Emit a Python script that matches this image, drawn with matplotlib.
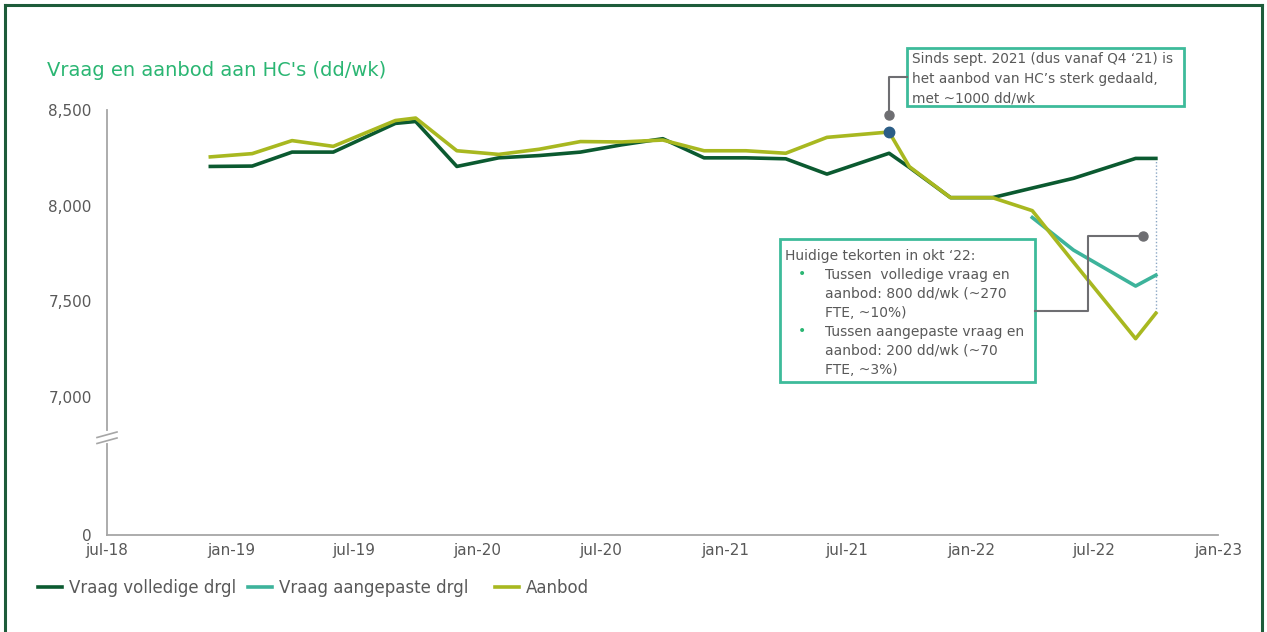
import numpy as np
import matplotlib
matplotlib.use("Agg")
import matplotlib.pyplot as plt
from matplotlib.lines import Line2D
from matplotlib.patches import Rectangle
import datetime as dt

# ---------------- data ----------------
dates = ["2018-12", "2019-02", "2019-04", "2019-06", "2019-09", "2019-10", "2019-12",
         "2020-02", "2020-04", "2020-06", "2020-08", "2020-10", "2020-12",
         "2021-02", "2021-04", "2021-06", "2021-09", "2021-10", "2021-12",
         "2022-02", "2022-04", "2022-06", "2022-09", "2022-10"]
vraag_volledig = [8205, 8207, 8280, 8280, 8430, 8440, 8205,
                  8250, 8262, 8280, 8318, 8350, 8250,
                  8250, 8245, 8165, 8274, 8200, 8042,
                  8042, 8092, 8143, 8247, 8247]
aanbod = [8255, 8272, 8340, 8310, 8445, 8458, 8287,
          8268, 8295, 8335, 8333, 8343, 8287,
          8287, 8274, 8357, 8385, 8204, 8042,
          8042, 7974, 7705, 7305, 7438]
dates_aangepast = ["2022-04", "2022-06", "2022-09", "2022-10"]
vraag_aangepast = [7938, 7768, 7580, 7637]

y_ticks = [0, 7000, 7500, 8000, 8500]
month_nl = {1: "jan", 7: "jul"}

title = "Vraag en aanbod aan HC's (dd/wk)"
legend_labels = ["Vraag volledige drgl", "Vraag aangepaste drgl", "Aanbod"]
note1 = "Sinds sept. 2021 (dus vanaf Q4 \u201821) is\nhet aanbod van HC\u2019s sterk gedaald,\nmet ~1000 dd/wk"
note2_head = "Huidige tekorten in okt \u201822:"
note2_items = ["Tussen  volledige vraag en\naanbod: 800 dd/wk (~270\nFTE, ~10%)",
               "Tussen aangepaste vraag en\naanbod: 200 dd/wk (~70\nFTE, ~3%)"]

# ---------------- style ----------------
C_DARK = "#0b5a30"
C_TEAL = "#3db39b"
C_YEL = "#a8b820"
C_TITLE = "#2bb673"
C_TEXT = "#595959"
C_AXIS = "#a6a6a6"
C_BOX = "#3dbb9a"
C_CONN = "#6e6e72"
C_BLUE = "#2b5d86"
C_FRAME = "#1d5c3a"
LW = 2.6

W, H = 1267, 632
fig = plt.figure(figsize=(W / 100, H / 100), dpi=100)
plt.rcParams['font.family'] = ['DejaVu Sans']


def fx(x):
    return x / W


def fy(y):
    return 1 - y / H


ax = fig.add_axes([fx(107), fy(535), fx(1218) - fx(107), fy(110) - fy(535)])

# broken-axis scale
G = 721.0


def fwd(y):
    y = np.asarray(y, float)
    return np.where(y < 7000, y * G / 7000.0, G + (y - 7000.0))


def inv(v):
    v = np.asarray(v, float)
    return np.where(v < G, v * 7000.0 / G, v - G + 7000.0)


ax.set_yscale('function', functions=(fwd, inv))

d_all = [dt.datetime.strptime(d, "%Y-%m") for d in dates]
d_adj = [dt.datetime.strptime(d, "%Y-%m") for d in dates_aangepast]

l1, = ax.plot(d_all, vraag_volledig, color=C_DARK, lw=LW, zorder=3)
l2, = ax.plot(d_adj, vraag_aangepast, color=C_TEAL, lw=LW, zorder=3)
l3, = ax.plot(d_all, aanbod, color=C_YEL, lw=LW, zorder=4)

# dotted vertical gap line at last point
ax.plot([d_all[-1], d_all[-1]], [vraag_volledig[-1], aanbod[-1]], color="#8aa6c4",
        lw=1.0, ls=(0, (1, 1.5)), zorder=2)

# blue marker at Sep-21 aanbod
i_sep = dates.index("2021-09")
ax.plot([d_all[i_sep]], [aanbod[i_sep]], 'o', color=C_BLUE, ms=7.5, zorder=6, clip_on=False)

ax.set_xlim(dt.datetime(2018, 7, 1), dt.datetime(2023, 1, 1))
ax.set_ylim(0, 8500)
ticks_x = [dt.datetime(y, m, 1) for y in range(2018, 2024) for m in (1, 7)
           if dt.datetime(2018, 7, 1) <= dt.datetime(y, m, 1) <= dt.datetime(2023, 1, 1)]
ax.set_xticks(ticks_x)
ax.set_xticklabels([f"{month_nl[t.month]}-{t.year % 100:02d}" for t in ticks_x])
ax.set_yticks(y_ticks)
ax.set_yticklabels([f"{v:,}" for v in y_ticks])
ax.yaxis.set_minor_locator(matplotlib.ticker.NullLocator())
ax.tick_params(axis='both', length=0, labelsize=11, labelcolor=C_TEXT)
ax.tick_params(axis='y', pad=11)
ax.tick_params(axis='x', pad=6)
for s in ("top", "right"):
    ax.spines[s].set_visible(False)
for s in ("left", "bottom"):
    ax.spines[s].set_color(C_AXIS)
    ax.spines[s].set_linewidth(1.3)

# axis break marks
fig.add_artist(Line2D([fx(107), fx(107)], [fy(433), fy(441)], color="white", lw=3, zorder=10))
fig.add_artist(Line2D([fx(97), fx(117)], [fy(437.5), fy(432)], color=C_AXIS, lw=1.2, zorder=11))
fig.add_artist(Line2D([fx(97), fx(117)], [fy(443.5), fy(438)], color=C_AXIS, lw=1.2, zorder=11))

# title
fig.text(fx(47), fy(70), title, color=C_TITLE, fontsize=14, va='center', ha='left')

# legend: one entry per slot, placed like the original
for line, lab, xpos in zip((l1, l2, l3), legend_labels, (38, 248, 495)):
    leg = fig.legend([line], [lab], loc='center left', bbox_to_anchor=(fx(xpos), fy(588)),
                     frameon=False, fontsize=12, labelcolor=C_TEXT, handlelength=1.45,
                     handletextpad=0.4, borderpad=0, borderaxespad=0)

# frame around figure
for xs, ys in (([fx(5), fx(5)], [0, fy(5)]), ([fx(5), fx(1262)], [fy(5), fy(5)]),
               ([fx(1262), fx(1262)], [fy(5), 0])):
    fig.add_artist(Line2D(xs, ys, color=C_FRAME, lw=2.2))

# annotation box 1
fig.add_artist(Rectangle((fx(907), fy(106)), fx(1184) - fx(907), fy(48) - fy(106),
                         fill=False, edgecolor=C_BOX, lw=2.0))
fig.text(fx(912), fy(79), note1, fontsize=9.8, color=C_TEXT, va='center', ha='left',
         linespacing=1.5)
fig.add_artist(Line2D([fx(907), fx(889), fx(889)], [fy(77), fy(77), fy(115)],
                      color=C_CONN, lw=1.5))
fig.add_artist(Line2D([fx(889)], [fy(115)], marker='o', color=C_CONN, ms=6.5))

# annotation box 2
fig.add_artist(Rectangle((fx(780), fy(382)), fx(1035) - fx(780), fy(239) - fy(382),
                         fill=False, edgecolor=C_BOX, lw=2.0))
fig.text(fx(785), fy(256), note2_head, fontsize=10, color=C_TEXT, va='center', ha='left')
y0 = 274
step = 19
for k, item in enumerate(note2_items):
    yy = y0 + k * 3 * step
    fig.text(fx(802), fy(yy), "\u2022", fontsize=10, color=C_TITLE, va='center', ha='center')
    fig.text(fx(825), fy(yy - 6), item, fontsize=10, color=C_TEXT, va='top', ha='left',
             linespacing=1.45)
fig.add_artist(Line2D([fx(1035), fx(1088), fx(1088), fx(1143)],
                      [fy(311), fy(311), fy(236), fy(236)], color=C_CONN, lw=1.5))
fig.add_artist(Line2D([fx(1143)], [fy(236)], marker='o', color=C_CONN, ms=6.5))

fig.savefig("out.png", dpi=100)
